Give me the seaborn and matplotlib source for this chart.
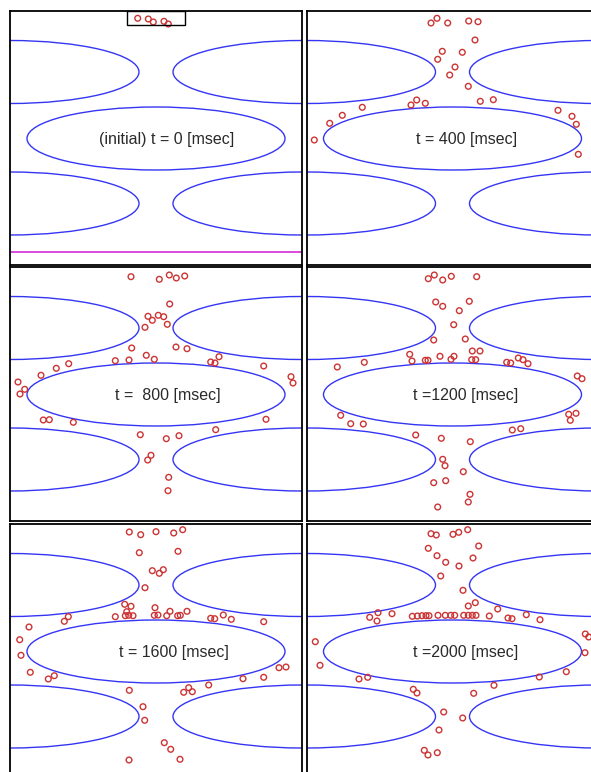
import matplotlib
matplotlib.use("Agg")
import matplotlib.pyplot as plt
from matplotlib.patches import Ellipse, Rectangle
import seaborn as sns
import pandas as pd

# ---------------- data ----------------
times = [0, 400, 800, 1200, 1600, 2000]
labels = ["(initial) t = 0 [msec]", "t = 400 [msec]", "t =  800 [msec]",
          "t =1200 [msec]", "t = 1600 [msec]", "t =2000 [msec]"]

# obstacle (ellipse) centres in panel coordinates
ell_cx = [0, 292, 146, 0, 292]
ell_cy = [61, 61, 127.5, 192.5, 192.5]
ell_w = 258
ell_h = 63

# particles, one list pair per snapshot
p0_x = [127.7, 138.3, 143.3, 154.0, 158.3]
p0_y = [7.3, 8.0, 11.0, 10.3, 13.0]

p400_x = [124.5, 130.5, 141.2, 162.2, 171.5, 168.5, 135.8, 131.2, 155.8, 148.5,
          143.2, 161.8, 104.5, 110.2, 118.8, 173.8, 186.8, 55.8, 35.8, 23.2,
          7.8, 251.5, 265.5, 269.8, 271.8]
p400_y = [12.0, 7.3, 12.0, 10.0, 10.7, 29.0, 40.3, 48.3, 41.3, 56.0,
          64.0, 75.3, 94.0, 89.0, 92.3, 90.3, 88.7, 96.3, 104.3, 112.3,
          129.0, 99.3, 105.3, 113.3, 143.3]

p800_x = [121.0, 149.3, 159.3, 166.3, 174.7, 159.7, 138.0, 142.3, 148.3, 153.7,
          135.0, 157.3, 121.7, 166.0, 177.0, 136.3, 144.3, 119.0, 105.3, 200.7,
          205.0, 209.0, 58.7, 46.3, 31.0, 8.0, 14.7, 10.0, 253.7, 281.0,
          283.0, 33.3, 39.3, 63.3, 256.0, 205.7, 130.3, 156.3, 169.0, 141.0,
          137.7, 158.7, 158.0]
p800_y = [9.7, 12.3, 8.0, 11.0, 9.0, 37.0, 49.3, 53.3, 48.3, 49.7,
          60.3, 57.3, 81.0, 80.0, 81.7, 88.3, 92.3, 93.0, 93.7, 95.0,
          96.0, 89.7, 96.7, 101.3, 108.3, 115.0, 122.3, 127.0, 99.0, 109.7,
          116.0, 153.0, 152.7, 155.3, 152.3, 162.7, 167.7, 171.7, 168.7, 188.3,
          193.0, 210.3, 223.7]

p1200_x = [121.8, 127.8, 136.2, 144.8, 170.2, 129.2, 136.2, 162.8, 152.8, 147.2,
           127.2, 158.8, 165.8, 173.5, 103.2, 105.5, 118.8, 121.5, 133.5, 144.5,
           147.5, 165.2, 169.2, 200.2, 204.2, 211.8, 216.5, 221.5, 30.8, 57.8,
           270.8, 275.5, 34.2, 44.2, 56.8, 262.2, 269.5, 263.8, 205.8, 214.2,
           109.2, 134.8, 163.8, 136.2, 138.5, 156.8, 127.2, 139.2, 163.5, 161.8,
           131.2]
p1200_y = [11.7, 8.0, 13.0, 9.3, 9.7, 35.0, 39.3, 34.3, 43.7, 57.7,
           73.0, 72.0, 84.0, 84.0, 87.3, 94.0, 93.3, 93.3, 89.3, 92.3,
           89.3, 92.7, 92.7, 95.3, 96.0, 91.0, 92.7, 96.7, 100.0, 95.3,
           109.0, 111.7, 148.3, 156.7, 157.0, 147.3, 146.3, 153.3, 163.0, 161.7,
           168.0, 171.3, 174.7, 192.3, 198.7, 204.7, 215.7, 213.7, 227.3, 235.0,
           240.0]

p1600_x = [119.3, 130.7, 146.0, 163.7, 172.7, 129.3, 168.0, 142.3, 149.3, 153.3,
           135.0, 114.7, 121.0, 145.0, 160.0, 177.0, 116.7, 118.7, 123.0, 105.3,
           115.3, 144.3, 148.0, 156.7, 167.7, 170.3, 200.7, 204.7, 213.3, 221.3,
           253.7, 58.3, 54.3, 19.0, 9.7, 11.0, 20.3, 38.3, 44.3, 269.0,
           276.0, 233.0, 253.7, 198.7, 119.3, 173.7, 178.7, 182.3, 133.0, 134.7,
           154.3, 160.7, 170.0, 119.0]
p1600_y = [8.0, 10.7, 7.7, 9.0, 5.7, 28.7, 27.3, 46.7, 49.3, 45.7,
           63.7, 80.3, 82.3, 83.7, 87.3, 87.3, 87.7, 91.3, 91.7, 92.7,
           91.7, 91.3, 91.0, 91.7, 91.7, 91.3, 94.3, 94.7, 91.0, 95.3,
           97.7, 92.7, 97.3, 103.0, 115.7, 131.3, 148.3, 155.0, 151.7, 143.7,
           143.0, 154.7, 153.3, 161.0, 166.3, 168.3, 163.7, 167.7, 182.7, 196.3,
           218.7, 225.3, 235.3, 236.0]

p2000_x = [124.5, 129.8, 146.5, 152.2, 161.2, 121.8, 172.2, 130.5, 139.2, 152.5,
           166.5, 134.2, 156.5, 161.8, 168.8, 191.2, 63.2, 71.5, 70.5, 85.5,
           105.8, 110.8, 115.5, 119.5, 122.5, 131.5, 138.8, 144.2, 148.2, 157.2,
           161.8, 165.8, 169.5, 182.8, 201.5, 205.5, 219.8, 233.5, 8.8, 13.5,
           278.8, 282.2, 278.5, 52.5, 61.2, 232.8, 259.8, 187.5, 106.8, 110.5,
           167.2, 137.2, 156.2, 132.5, 117.8, 121.5, 130.8]
p2000_y = [9.7, 11.0, 10.3, 8.3, 5.7, 24.3, 22.0, 31.7, 38.3, 42.0,
           34.0, 52.0, 66.3, 82.0, 78.7, 85.0, 93.3, 88.7, 97.0, 89.7,
           92.3, 92.0, 91.7, 91.7, 91.7, 91.3, 91.3, 91.3, 91.3, 91.3,
           91.3, 91.3, 91.3, 92.0, 94.0, 94.7, 90.7, 95.7, 117.7, 141.3,
           110.0, 113.0, 128.7, 155.0, 153.3, 153.0, 147.7, 161.3, 165.3, 169.0,
           169.3, 188.0, 194.0, 206.0, 226.3, 231.0, 228.7]

panel_x = [p0_x, p400_x, p800_x, p1200_x, p1600_x, p2000_x]
panel_y = [p0_y, p400_y, p800_y, p1200_y, p1600_y, p2000_y]

# initial release box and floor line (panel 1 only)
box_x = [116.7, 175.0]
box_y = [0.0, 14.0]
floor_y = 241

# ---------------- figure ----------------
sns.set_theme(style="white")
plt.rcParams["font.family"] = ["Liberation Sans", "DejaVu Sans"]

W, H = 591, 772
PW, PH = 292, 254
fig = plt.figure(figsize=(W / 100, H / 100), dpi=100)
fig.patch.set_facecolor("white")

col_left = [10, 306.5]
row_top = [11, 267, 524]
label_cx = [157, 160, 158, 159, 164, 159]

for i in range(6):
    r, c = divmod(i, 2)
    left = col_left[c] / W
    bottom = 1 - (row_top[r] + PH) / H
    ax = fig.add_axes([left, bottom, PW / W, PH / H])
    ax.set_xlim(0, PW)
    ax.set_ylim(PH, 0)
    ax.set_xticks([])
    ax.set_yticks([])
    ax.set_facecolor("white")
    for sp in ax.spines.values():
        sp.set_visible(True)
        sp.set_color("black")
        sp.set_linewidth(1.3)

    for cx, cy in zip(ell_cx, ell_cy):
        ax.add_patch(Ellipse((cx, cy), ell_w, ell_h, fill=False,
                             edgecolor="#3535f5", linewidth=1.0, zorder=2))

    df = pd.DataFrame({"x": panel_x[i], "y": panel_y[i]})
    sns.scatterplot(data=df, x="x", y="y", ax=ax, marker="o", s=17,
                    fc="none", ec="#cc3333", linewidth=1.0, zorder=3,
                    legend=False)
    ax.set_xlabel("")
    ax.set_ylabel("")

    ax.text(label_cx[i], 128.5, labels[i], ha="center", va="center",
            fontsize=11.5, color="#2a2a2a", zorder=4)

    if i == 0:
        ax.add_patch(Rectangle((box_x[0], box_y[0]), box_x[1] - box_x[0],
                               box_y[1] - box_y[0], fill=False,
                               edgecolor="black", linewidth=1.0, zorder=4))
        ax.axhline(floor_y, color="#d83cd8", linewidth=1.3, zorder=2)

fig.savefig("out.png", dpi=100, facecolor="white")
